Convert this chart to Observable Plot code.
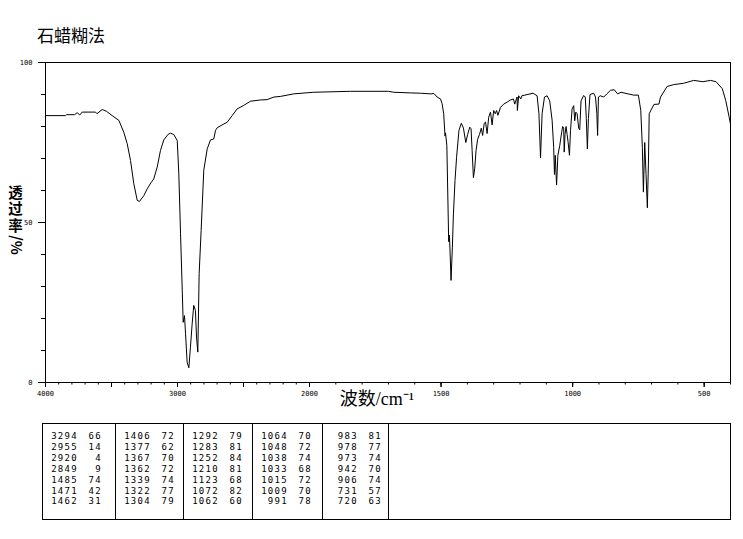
<!DOCTYPE html>
<html><head><meta charset="utf-8">
<script src="https://cdn.jsdelivr.net/npm/d3@7"></script>
<script src="https://cdn.jsdelivr.net/npm/@observablehq/plot@0.6"></script>
<style>
html,body{margin:0;padding:0;background:#fff;}
#wrap{position:relative;width:743px;height:539px;overflow:hidden;background:#fff;}
#chart{position:absolute;left:0;top:0;}
#title{position:absolute;left:37px;top:24px;font:17px "Noto Sans CJK SC";line-height:22px;color:#000;}
#table{position:absolute;left:42px;top:423px;width:687px;height:95px;border:1px solid #000;}
.vline{position:absolute;width:1px;background:#000;top:423px;height:97px;}
.cell{position:absolute;font:9px "DejaVu Sans Mono",monospace;letter-spacing:1.3px;text-align:right;line-height:10px;height:10px;color:#000;}
</style></head>
<body>
<div id="wrap">
  <div id="title">石蜡糊法</div>
  <div id="chart"></div>
  <div id="table"></div>
</div>
<script>
// ---- spectrum (wavenumber cm-1, transmittance %) ----
const wavenumber = [4000,3848,3840,3780,3760,3740,3722,3640,3621,3610,3571,3540,3495,3444,3407,3381,3356,3331,3305,3288,3255,3230,3200,3180,3154,3129,3104,3070,3053,3028,3002,2990,2977,2964,2957,2947,2939,2927,2914,2902,2889,2877,2864,2856,2846,2836,2821,2801,2775,2750,2725,2712,2699,2649,2624,2586,2548,2498,2447,2371,2321,2270,2220,2119,1984,1844,1700,1680,1616,1578,1540,1527,1515,1502,1496,1490,1485,1483,1478,1471,1468,1462,1457,1453,1447,1441,1432,1423,1415,1406,1399,1391,1386,1382,1377,1372,1367,1361,1354,1347,1342,1336,1331,1325,1319,1312,1306,1300,1294,1289,1284,1274,1262,1249,1236,1225,1220,1211,1210,1205,1197,1193,1150,1135,1128,1122,1116,1107,1097,1087,1078,1072,1069,1066,1061,1056,1049,1042,1038,1034,1032,1029,1025,1021,1017,1012,1008,1002,996,992,988,983,977,973,968,958,952,948,944,940,934,920,913,908,905,902,895,882,870,856,842,829,816,790,767,750,741,735,731,726,721,716,712,709,691,672,666,641,616,578,540,505,476,455,431,418,405,400];
const transmittance = [83.4,83.4,83.7,83.7,84.3,83.6,84.5,84.5,84.5,84.0,85.3,84.8,83.4,81.9,78.2,74.6,69.4,62.1,56.9,56.6,58.4,60.5,62.5,63.6,67.3,72.5,75.8,77.6,77.9,77.5,75.6,65.2,46.5,28.8,18.8,20.9,15.2,6.3,4.6,11.0,18.3,24.1,22.5,14.2,9.5,34.0,47.5,66.3,73.0,75.8,76.1,78.8,79.6,80.8,81.3,83.4,85.5,86.6,87.9,88.3,88.4,89.2,89.4,90.2,90.7,91.0,91.0,90.7,90.5,90.4,90.2,90.3,89.2,88.6,87.1,84.0,77.0,78.0,74.0,44.0,46.0,31.9,42.3,52.7,63.1,70.4,78.8,81.0,79.5,75.0,77.5,79.8,79.3,72.5,64.0,67.0,72.5,76.0,77.5,79.5,77.2,81.0,81.4,77.8,82.9,84.5,80.5,85.0,84.0,85.0,83.5,86.0,87.0,87.6,88.3,88.6,87.0,89.2,85.0,89.6,88.6,89.6,90.4,89.6,84.0,70.2,84.0,89.2,89.6,88.0,82.0,73.5,65.0,71.0,61.7,71.0,74.0,78.0,80.0,79.5,72.0,77.5,80.0,77.5,75.0,71.0,78.8,85.5,86.5,81.8,84.5,84.0,79.5,79.0,88.0,89.7,89.2,82.5,73.0,82.5,90.0,90.4,89.2,84.0,77.2,89.2,89.6,89.2,90.2,91.3,91.5,90.2,90.7,90.2,89.8,89.8,85.0,73.5,59.5,75.0,65.0,54.6,68.0,84.0,86.9,87.0,89.2,92.5,93.1,93.5,94.4,94.0,94.4,94.0,91.8,88.1,82.9,80.8];

// ---- axis ticks ----
const xLabelTicks = [4000, 3000, 2000, 1500, 1000, 500];
const xMajorTicks = [4000, 3500, 3000, 2500, 2000, 1500, 1000, 500];
const xMinorTicks = d3.range(4000, 399, -100);
const yLabelTicks = [0, 50, 100];
const yMinorTicks = d3.range(0, 101, 10);

// ---- peak table ----
const peakWavenumber = [3294,2955,2920,2849,1485,1471,1462, 1406,1377,1367,1362,1339,1322,1304, 1292,1283,1252,1210,1123,1072,1062, 1064,1048,1038,1033,1015,1009,991, 983,978,973,942,906,731,720];
const peakTransmittance = [66,14,4,9,74,42,31, 72,62,70,72,74,77,79, 79,81,84,81,68,82,60, 70,72,74,68,72,70,78, 81,77,74,70,74,57,63];

const xTitle = "波数/cm⁻¹";
const yTitleChars = ["透", "过", "率"];
const yTitleUnit = "/%";

const data = wavenumber.map((w, i) => ({w, t: transmittance[i]}));
const cjk = "'Noto Sans CJK SC', sans-serif";

const chart = Plot.plot({
  width: 743,
  height: 420,
  marginTop: 62,
  marginLeft: 45,
  marginRight: 13,
  marginBottom: 38,
  x: {type: "linear", domain: [4000, 2000, 400], range: [45, 309, 730]},
  y: {domain: [0, 100]},
  style: {fontFamily: "'DejaVu Sans Mono', monospace", fontSize: "7px", color: "#000", background: "transparent", overflow: "visible"},
  marks: [
    Plot.frame({stroke: "#000", strokeWidth: 1}),
    Plot.axisX(xMinorTicks, {anchor: "bottom", tickSize: 2.5, text: null, label: null, strokeWidth: 1}),
    Plot.axisX(xMajorTicks, {anchor: "bottom", tickSize: 5, text: null, label: null, strokeWidth: 1}),
    Plot.axisX(xLabelTicks, {anchor: "bottom", tickSize: 5, tickPadding: 4, label: null, tickFormat: d => String(d), strokeWidth: 1}),
    Plot.axisY(yMinorTicks, {anchor: "left", tickSize: 4, text: null, label: null, strokeWidth: 1}),
    Plot.axisY(yLabelTicks, {anchor: "left", tickSize: 7, tickPadding: 6, label: null, tickFormat: d => String(d), strokeWidth: 1}),
    Plot.line(data, {x: "w", y: "t", stroke: "#000", strokeWidth: 1}),
    Plot.text([xTitle], {frameAnchor: "bottom", dy: 22, dx: -11, fontSize: 18, fontFamily: "'Liberation Serif', 'Noto Sans CJK SC', serif", fill: "#000"}),
    // vertical y title: upright CJK characters stacked (one multi-line text), unit rotated below
    Plot.text([yTitleChars.join("\n")], {frameAnchor: "left", textAnchor: "middle", lineAnchor: "middle", lineHeight: 1.15, dx: -30, dy: -13.5, fontSize: 14.5, fontWeight: "bold", fontFamily: cjk, fill: "#000"}),
    Plot.text([yTitleUnit], {frameAnchor: "left", textAnchor: "middle", lineAnchor: "middle", dx: -30, dy: 22.5, rotate: 90, fontSize: 14.5, fontWeight: "bold", fontFamily: cjk, fill: "#000"})
  ]
});
document.getElementById("chart").appendChild(chart);

// ---- table drawn from arrays ----
const wrap = document.getElementById("wrap");
const colLefts = [42, 115, 183, 252, 322];
const sepXs = [115, 183, 252, 322, 388];
sepXs.forEach(x => {
  const v = document.createElement("div");
  v.className = "vline";
  v.style.left = x + "px";
  wrap.appendChild(v);
});
const rowsPerCol = 7;
peakWavenumber.forEach((w, i) => {
  const c = Math.floor(i / rowsPerCol), r = i % rowsPerCol;
  const cy = 436 + r * 10.9;
  const L = colLefts[c];
  const a = document.createElement("div");
  a.className = "cell";
  a.textContent = String(w);
  a.style.left = (L) + "px";
  a.style.width = (36) + "px";
  a.style.top = (cy - 5) + "px";
  wrap.appendChild(a);
  const b = document.createElement("div");
  b.className = "cell";
  b.textContent = String(peakTransmittance[i]);
  b.style.left = (L + 40) + "px";
  b.style.width = (20) + "px";
  b.style.top = (cy - 5) + "px";
  wrap.appendChild(b);
});
</script>
</body></html>
